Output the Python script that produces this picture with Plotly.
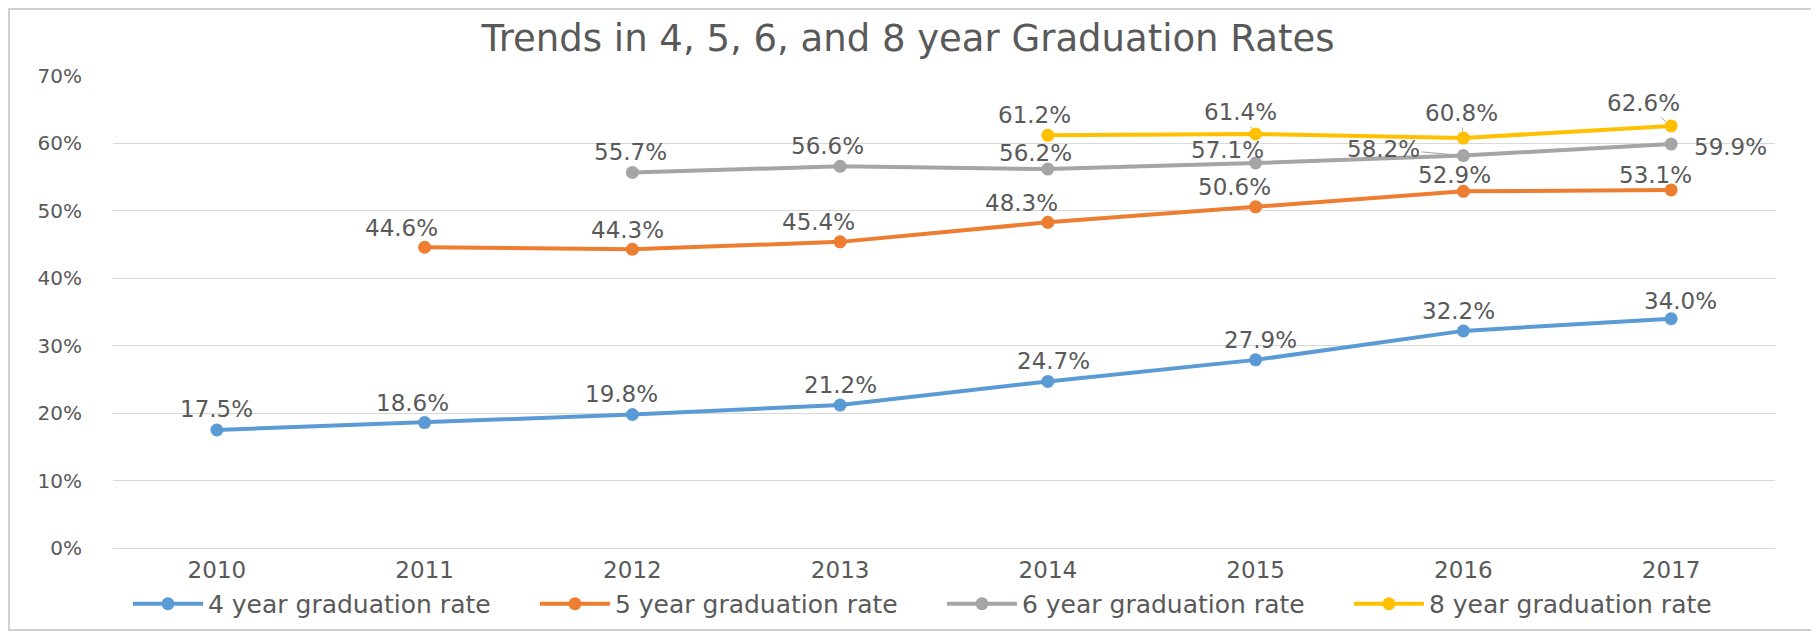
import plotly.graph_objects as go

years = ["2010", "2011", "2012", "2013", "2014", "2015", "2016", "2017"]
rate4 = [0.175, 0.186, 0.198, 0.212, 0.247, 0.279, 0.322, 0.340]
rate5 = [None, 0.446, 0.443, 0.454, 0.483, 0.506, 0.529, 0.531]
rate6 = [None, None, 0.557, 0.566, 0.562, 0.571, 0.582, 0.599]
rate8 = [None, None, None, None, 0.612, 0.614, 0.608, 0.626]
series_names = ["4 year graduation rate", "5 year graduation rate",
                "6 year graduation rate", "8 year graduation rate"]
title_text = "Trends in 4, 5, 6, and 8 year Graduation Rates"

colors = ["#5B9BD5", "#ED7D31", "#A5A5A5", "#FFC000"]
FONT = "DejaVu Sans"
TXT = "#595959"
LBL = 23

# ---- label placement (pixel offsets of label centre from its point) ----
DEFAULT_OFF = (-8, 20)
label_offsets = {
    (0, 0): (0, 21), (0, 1): (-12, 20), (0, 2): (-11, 20), (0, 3): (0, 20),
    (0, 4): (6, 20), (0, 5): (5, 20), (0, 6): (-5, 20), (0, 7): (9, 18),
    (1, 1): (-23, 19), (1, 2): (-5, 19), (1, 3): (-22, 20), (1, 4): (-26, 19),
    (1, 5): (-21, 20), (1, 6): (-9, 16), (1, 7): (-16, 15),
    (2, 2): (-2, 20), (2, 3): (-13, 20), (2, 4): (-12, 16), (2, 5): (-28, 13),
    (2, 7): (59, -3),
    (3, 4): (-13, 20),
}
# labels with leader lines: offset of label centre (ax, ay) in pixels
leader_offsets = {
    (3, 5): (-15, -22),
    (3, 6): (-2, -25),
    (3, 7): (-28, -23),
    (2, 6): (-80, -7),
}

fig = go.Figure()
all_series = [rate4, rate5, rate6, rate8]
for si, (vals, name, col) in enumerate(zip(all_series, series_names, colors)):
    fig.add_trace(go.Scatter(
        x=years, y=vals, name=name, mode="lines+markers",
        line=dict(color=col, width=4),
        marker=dict(color=col, size=13),
        cliponaxis=False, hoverinfo="skip",
    ))

for si, vals in enumerate(all_series):
    for yi, v in enumerate(vals):
        if v is None:
            continue
        label = f"{v*100:.1f}%"
        if (si, yi) in leader_offsets:
            ax, ay = leader_offsets[(si, yi)]
            fig.add_annotation(
                x=yi, y=v, xref="x", yref="y", text=label,
                showarrow=True, arrowhead=0, arrowwidth=1, arrowcolor="#A6A6A6",
                standoff=7, ax=ax, ay=ay,
                font=dict(family=FONT, size=LBL, color=TXT),
            )
        else:
            dx, dy = label_offsets.get((si, yi), DEFAULT_OFF)
            fig.add_annotation(
                x=yi, y=v, xref="x", yref="y", text=label,
                showarrow=False, xshift=dx, yshift=dy,
                xanchor="center", yanchor="middle",
                font=dict(family=FONT, size=LBL, color=TXT),
            )

# outer chart border (figure is drawn 8px in from the page edge)
fig.add_shape(type="rect", xref="paper", yref="paper",
              x0=-0.0626, x1=1.0229, y0=-0.1737, y1=1.142,
              line=dict(color="#D0D0D0", width=2), layer="below")

fig.update_layout(
    width=1819, height=635,
    margin=dict(l=105, r=52, t=68, b=95),
    paper_bgcolor="white", plot_bgcolor="white",
    title=dict(text=title_text, x=900 / 1819, xref="container", xanchor="center",
               y=1 - 30 / 635, yref="container", yanchor="middle",
               font=dict(family=FONT, size=37, color=TXT)),
    xaxis=dict(type="category", range=[-0.5, 7.5], showgrid=False,
               showline=False, zeroline=False, ticks="",
               tickfont=dict(family=FONT, size=23, color=TXT),
               ticklabelstandoff=6),
    yaxis=dict(range=[0, 0.7], dtick=0.1, tickformat=".0%",
               showgrid=True, gridcolor="#D9D9D9", gridwidth=1,
               zeroline=True, zerolinecolor="#D9D9D9", zerolinewidth=1,
               showline=False, ticks="",
               tickfont=dict(family=FONT, size=20, color=TXT),
               ticklabelstandoff=30),
    legend=dict(orientation="h", x=0.009, xanchor="left",
                y=-0.1186, yanchor="middle",
                entrywidthmode="pixels", entrywidth=322, itemwidth=70,
                font=dict(family=FONT, size=25, color=TXT),
                bgcolor="rgba(0,0,0,0)"),
    showlegend=True,
)

fig.write_html("out.html")
